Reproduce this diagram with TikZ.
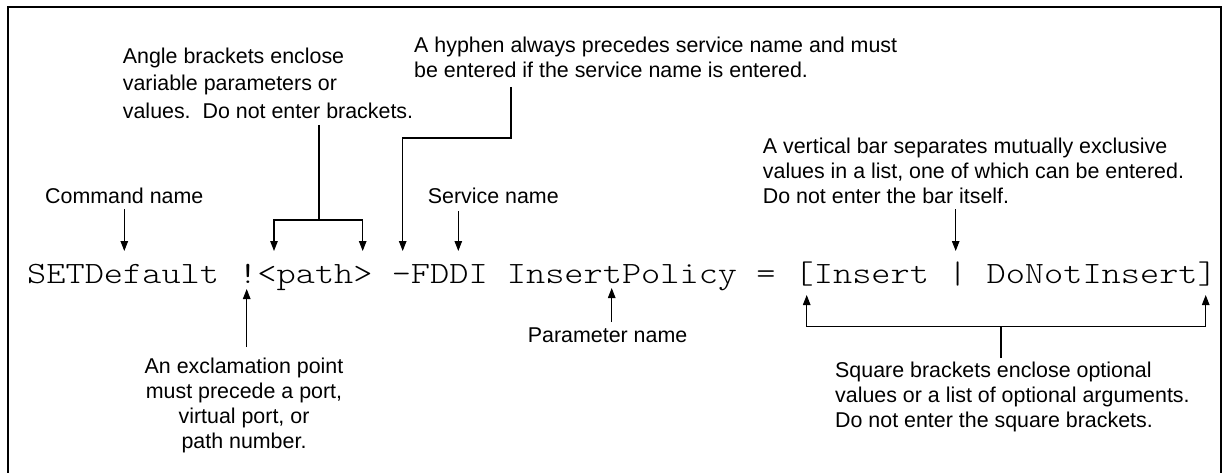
\documentclass[tikz,border=0pt]{standalone}
\usepackage{fontspec}
\setmainfont{Liberation Sans}
\usepackage{graphicx}
\usetikzlibrary{arrows.meta}
\begin{document}
\begin{tikzpicture}[x=1pt,y=-1pt,
  lbl/.style={font=\fontsize{21.4}{25}\selectfont, inner sep=0pt, anchor=north west, align=left},
  conn/.style={line width=1.1pt},
  arr/.style={conn, -{Triangle[length=10pt,width=7.5pt]}},
  frame/.style={line width=1.5pt}
]
\useasboundingbox (0,0) rectangle (1225,473);
\draw[frame] (8,480) -- (8,7) -- (1221,7) -- (1221,480);

% main command line
\node[inner sep=0pt, anchor=base west] (cmdline) at (27,283)
  {\scalebox{1.179}[1]{\fontsize{31}{31}\ttfamily\fontseries{l}\selectfont SETDefault !<path> -FDDI InsertPolicy = [Insert | DoNotInsert]}};

% labels
\node[lbl, font=\fontsize{21.4}{27.5}\selectfont] (angle) at (122.7,47.7)
  {Angle brackets enclose\\variable parameters or\\values.\ \ Do not enter brackets.};
\node[lbl] (hyphen) at (414,36.4)
  {A hyphen always precedes service name and must\\be entered if the service name is entered.};
\node[lbl] (cmd) at (45,187.7) {Command name};
\node[lbl] (service) at (427.7,187.7) {Service name};
\node[lbl] (vbar) at (762.7,137.4)
  {A vertical bar separates mutually exclusive\\values in a list, one of which can be entered.\\Do not enter the bar itself.};
\node[lbl, anchor=north, align=center] (excl) at (244,357.4)
  {An exclamation point\\must precede a port,\\virtual port, or\\path number.};
\node[lbl] (param) at (527.7,327.7) {Parameter name};
\node[lbl] (square) at (835,361.4)
  {Square brackets enclose optional\\values or a list of optional arguments.\\Do not enter the square brackets.};

% connector points
\coordinate (cmdA) at (124.3,209);   \coordinate (cmdB) at (124.3,251);
\coordinate (angA) at (319,125);     \coordinate (angJ) at (319,220);
\coordinate (angL) at (274,251);     \coordinate (angR) at (362.7,251);
\coordinate (hypA) at (511,87);      \coordinate (hypJ) at (511,138);
\coordinate (hypB) at (402.7,251);
\coordinate (srvA) at (458.3,211);   \coordinate (srvB) at (458.3,251);
\coordinate (barA) at (955.7,209);   \coordinate (barB) at (955.7,251);
\coordinate (excA) at (246.7,347);   \coordinate (excB) at (246.7,289);
\coordinate (parA) at (611.7,322);   \coordinate (parB) at (611.7,288);
\coordinate (sqA) at (1001,358);     \coordinate (sqJ) at (1001,326.7);
\coordinate (sqL) at (806.7,295);    \coordinate (sqR) at (1205.7,295);

% connectors
\draw[arr] (cmdA) -- (cmdB);
\draw[conn] (angA) -- (angJ);
\draw[arr] (angJ) -| (angL);
\draw[arr] (angJ) -| (angR);
\draw[arr] (hypA) -- (hypJ) -| (hypB);
\draw[arr] (srvA) -- (srvB);
\draw[arr] (barA) -- (barB);
\draw[arr] (excA) -- (excB);
\draw[arr] (parA) -- (parB);
\draw[conn] (sqA) -- (sqJ);
\draw[arr] (sqJ) -| (sqL);
\draw[arr] (sqJ) -| (sqR);
\end{tikzpicture}
\end{document}
